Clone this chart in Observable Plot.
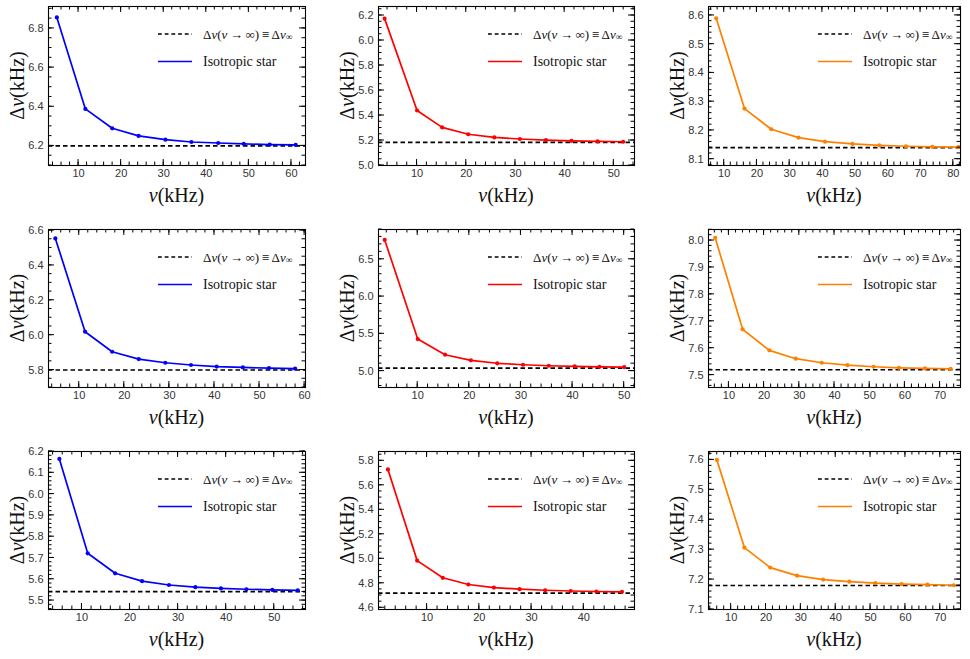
<!DOCTYPE html>
<html>
<head>
<meta charset="utf-8">
<script src="https://cdn.jsdelivr.net/npm/d3@7"></script>
<script src="https://cdn.jsdelivr.net/npm/@observablehq/plot@0.6"></script>
<style>
  body { margin: 0; background: #fff; }
  #fig { position: relative; width: 970px; height: 659px; overflow: hidden; background: #fff; }
  #fig svg { position: absolute; overflow: visible; }
</style>
</head>
<body>
<div id="fig"></div>
<script>
// ---- Frequency spacing Δν versus frequency ν, one panel per model ----
// Row 1
const nu_r1c1  = [4.9, 11.6, 17.9, 24.1, 30.4, 36.5, 42.8, 48.8, 54.9, 61.0];
const dnu_r1c1 = [6.856, 6.389, 6.290, 6.251, 6.232, 6.220, 6.215, 6.210, 6.207, 6.205];
const nu_r1c2  = [3.4, 10.0, 15.1, 20.4, 25.7, 30.9, 36.2, 41.4, 46.7, 51.9];
const dnu_r1c2 = [6.175, 5.440, 5.305, 5.250, 5.225, 5.212, 5.203, 5.197, 5.193, 5.190];
const nu_r1c3  = [7.55, 16.2, 24.4, 32.7, 40.8, 49.2, 57.4, 65.5, 73.6, 81.6];
const dnu_r1c3 = [8.590, 8.276, 8.204, 8.175, 8.161, 8.153, 8.148, 8.145, 8.143, 8.142];
// Row 2
const nu_r2c1  = [4.7, 11.3, 17.3, 23.2, 29.1, 34.8, 40.5, 46.3, 52.1, 57.9];
const dnu_r2c1 = [6.555, 6.020, 5.905, 5.863, 5.842, 5.829, 5.820, 5.815, 5.811, 5.808];
const nu_r2c2  = [3.6, 10.0, 15.3, 20.3, 25.4, 30.4, 35.4, 40.4, 45.2, 50.0];
const dnu_r2c2 = [6.760, 5.430, 5.220, 5.145, 5.105, 5.085, 5.072, 5.064, 5.058, 5.054];
const nu_r2c3  = [6.1, 13.9, 21.5, 29.0, 36.4, 43.7, 51.1, 58.3, 65.7, 73.0];
const dnu_r2c3 = [8.010, 7.670, 7.592, 7.561, 7.546, 7.537, 7.531, 7.527, 7.525, 7.523];
// Row 3
const nu_r3c1  = [5.3, 11.2, 16.9, 22.5, 28.1, 33.6, 38.9, 44.2, 49.6, 54.9];
const dnu_r3c1 = [6.165, 5.722, 5.628, 5.591, 5.573, 5.563, 5.557, 5.553, 5.550, 5.548];
const nu_r3c2  = [2.5, 8.1, 13.0, 17.9, 22.8, 27.7, 32.6, 37.5, 42.4, 47.3];
const dnu_r3c2 = [5.730, 4.985, 4.845, 4.790, 4.765, 4.752, 4.743, 4.737, 4.733, 4.730];
const nu_r3c3  = [5.9, 13.8, 21.2, 28.9, 36.4, 43.9, 51.4, 58.9, 66.3, 73.9];
const dnu_r3c3 = [7.600, 7.307, 7.240, 7.213, 7.200, 7.193, 7.188, 7.185, 7.183, 7.181];

// Asymptotic spacing Δν∞ per panel (row-major)
const dnuInf = [6.2, 5.185, 8.14, 5.8, 5.04, 7.52, 5.542, 4.72, 7.18];

// Series colours by column
const seriesColors = ["#0000ff", "#ff0000", "#ff8000"];

// Tick labels
const xTicks_to60 = [10, 20, 30, 40, 50, 60];
const xTicks_to50 = [10, 20, 30, 40, 50];
const xTicks_to40 = [10, 20, 30, 40];
const xTicks_to80 = [10, 20, 30, 40, 50, 60, 70, 80];
const xTicks_to70 = [10, 20, 30, 40, 50, 60, 70];
const yTicks_r1c1 = [6.2, 6.4, 6.6, 6.8];
const yTicks_r1c2 = [5.0, 5.2, 5.4, 5.6, 5.8, 6.0, 6.2];
const yTicks_r1c3 = [8.1, 8.2, 8.3, 8.4, 8.5, 8.6];
const yTicks_r2c1 = [5.8, 6.0, 6.2, 6.4, 6.6];
const yTicks_r2c2 = [5.0, 5.5, 6.0, 6.5];
const yTicks_r2c3 = [7.5, 7.6, 7.7, 7.8, 7.9, 8.0];
const yTicks_r3c1 = [5.5, 5.6, 5.7, 5.8, 5.9, 6.0, 6.1, 6.2];
const yTicks_r3c2 = [4.6, 4.8, 5.0, 5.2, 5.4, 5.6, 5.8];
const yTicks_r3c3 = [7.1, 7.2, 7.3, 7.4, 7.5, 7.6];

// Frame boxes on the page [left, right], [top, bottom] and scale settings
const colX = [[48, 305], [378, 634], [708, 960]];
const rowY = [[6, 165], [229, 387], [451, 609]];

const panels = [
  {r: 0, c: 0, nu: nu_r1c1, dnu: dnu_r1c1, xd: [2.94, 63.3], yd: [6.1, 6.912], xt: xTicks_to60, yt: yTicks_r1c1, xm: 2, ym: 0.05},
  {r: 0, c: 1, nu: nu_r1c2, dnu: dnu_r1c2, xd: [2.16, 54.2], yd: [5.0, 6.272], xt: xTicks_to50, yt: yTicks_r1c2, xm: 2, ym: 0.05},
  {r: 0, c: 2, nu: nu_r1c3, dnu: dnu_r1c3, xd: [5.2, 82.2], yd: [8.078, 8.631], xt: xTicks_to80, yt: yTicks_r1c3, xm: 2, ym: 0.02},
  {r: 1, c: 0, nu: nu_r2c1, dnu: dnu_r2c1, xd: [3.18, 60.2], yd: [5.70, 6.606], xt: xTicks_to60, yt: yTicks_r2c1, xm: 2, ym: 0.05},
  {r: 1, c: 1, nu: nu_r2c2, dnu: dnu_r2c2, xd: [2.4, 52.0], yd: [4.78, 6.90], xt: xTicks_to50, yt: yTicks_r2c2, xm: 2, ym: 0.1},
  {r: 1, c: 2, nu: nu_r2c3, dnu: dnu_r2c3, xd: [4.2, 75.8], yd: [7.454, 8.041], xt: xTicks_to70, yt: yTicks_r2c3, xm: 2, ym: 0.02},
  {r: 2, c: 0, nu: nu_r3c1, dnu: dnu_r3c1, xd: [3.04, 56.5], yd: [5.458, 6.2], xt: xTicks_to50, yt: yTicks_r3c1, xm: 2, ym: 0.02},
  {r: 2, c: 1, nu: nu_r3c2, dnu: dnu_r3c2, xd: [0.7, 49.7], yd: [4.586, 5.876], xt: xTicks_to40, yt: yTicks_r3c2, xm: 2, ym: 0.05},
  {r: 2, c: 2, nu: nu_r3c3, dnu: dnu_r3c3, xd: [3.5, 75.8], yd: [7.1, 7.628], xt: xTicks_to70, yt: yTicks_r3c3, xm: 2, ym: 0.02}
];

const ML = 48, MT = 6, MR = 14, MB = 50;
const MAJOR = 6, MINOR = 3.5;
const frameColor = "#000";
const fig = document.getElementById("fig");

function stepsIn([a, b], step) {
  const out = [];
  for (let k = Math.ceil(a / step - 1e-9); k * step <= b + 1e-9; k++) out.push(+(k * step).toFixed(6));
  return out;
}

panels.forEach((p, i) => {
  const [fl, fr] = colX[p.c];
  const [ft, fb] = rowY[p.r];
  const fw = fr - fl, fh = fb - ft;
  const color = seriesColors[p.c];
  const data = p.nu.map((x, k) => ({nu: x, dnu: p.dnu[k]}));
  const inRange = (d, [a, b]) => d >= a - 1e-9 && d <= b + 1e-9;
  const xMajor = p.xt.filter(d => inRange(d, p.xd));
  const yMajor = p.yt.filter(d => inRange(d, p.yd));

  const svg = Plot.plot({
    width: ML + fw + MR,
    height: MT + fh + MB,
    marginLeft: ML, marginTop: MT, marginRight: MR, marginBottom: MB,
    x: {domain: p.xd},
    y: {domain: p.yd},
    style: {fontFamily: "'Liberation Sans', Arial, sans-serif", fontSize: "11px", color: "#333", background: "transparent"},
    marks: [
      Plot.ruleY([dnuInf[i]], {stroke: "#000", strokeWidth: 1.6, strokeDasharray: "4.5,3"}),
      Plot.line(data, {x: "nu", y: "dnu", stroke: color, strokeWidth: 1.7}),
      Plot.dot(data, {x: "nu", y: "dnu", fill: color, r: 2.1}),
      Plot.frame({stroke: frameColor, strokeWidth: 1.1}),
      Plot.axisX(xMajor, {tickSize: 0, tickPadding: 4, label: null, tickFormat: d3.format("d")}),
      Plot.axisY(yMajor, {tickSize: 0, tickPadding: 5, label: null, tickFormat: d3.format(".1f")})
    ]
  });
  svg.style.left = (fl - ML) + "px";
  svg.style.top = (ft - MT) + "px";
  fig.appendChild(svg);

  // Inward major and minor ticks on all four frame sides, placed with the plot's scales
  const sx = svg.scale("x"), sy = svg.scale("y");
  const X = v => sx.apply(v), Y = v => sy.apply(v);
  const x0 = X(p.xd[0]), x1 = X(p.xd[1]), y0 = Y(p.yd[0]), y1 = Y(p.yd[1]);
  const tg = d3.select(svg).append("g").attr("stroke", frameColor).attr("stroke-width", 1);
  const tickSet = [[stepsIn(p.xd, p.xm), stepsIn(p.yd, p.ym), MINOR], [xMajor, yMajor, MAJOR]];
  for (const [xs, ys, len] of tickSet) {
    for (const v of xs) {
      const px = X(v);
      tg.append("line").attr("x1", px).attr("x2", px).attr("y1", y0).attr("y2", y0 - len);
      tg.append("line").attr("x1", px).attr("x2", px).attr("y1", y1).attr("y2", y1 + len);
    }
    for (const v of ys) {
      const py = Y(v);
      tg.append("line").attr("y1", py).attr("y2", py).attr("x1", x0).attr("x2", x0 + len);
      tg.append("line").attr("y1", py).attr("y2", py).attr("x1", x1).attr("x2", x1 - len);
    }
  }

  const g = d3.select(svg).append("g")
    .attr("font-family", "'Liberation Serif', 'DejaVu Serif', serif")
    .attr("fill", "#111");

  // Axis titles
  const xt = g.append("text")
    .attr("x", ML + fw / 2).attr("y", MT + fh + 37)
    .attr("text-anchor", "middle").attr("font-size", 20);
  xt.append("tspan").attr("font-style", "italic").text("ν");
  xt.append("tspan").text("(kHz)");

  const yt = g.append("text")
    .attr("transform", `translate(${ML - 31},${MT + fh / 2}) rotate(-90)`)
    .attr("text-anchor", "middle").attr("dominant-baseline", "central").attr("font-size", 20);
  yt.append("tspan").text("Δ");
  yt.append("tspan").attr("font-style", "italic").text("ν");
  yt.append("tspan").text("(kHz)");

  // Legend
  const lx = ML + 110, ly = MT + 28;
  const leg = g.append("g").attr("text-anchor", "start");
  leg.append("line").attr("x1", lx).attr("x2", lx + 34).attr("y1", ly).attr("y2", ly)
    .attr("stroke", "#000").attr("stroke-width", 1.6).attr("stroke-dasharray", "3.8,2.9");
  const t1 = leg.append("text").attr("x", lx + 45).attr("y", ly)
    .attr("dominant-baseline", "central").attr("font-size", 13);
  t1.append("tspan").text("Δ");
  t1.append("tspan").attr("font-style", "italic").text("ν");
  t1.append("tspan").text("(");
  t1.append("tspan").attr("font-style", "italic").text("ν");
  t1.append("tspan").text("\u2009→\u2009∞)\u2009≡\u2009Δ");
  t1.append("tspan").attr("font-style", "italic").text("ν");
  t1.append("tspan").attr("font-size", 9.5).attr("dy", 3).text("∞");

  leg.append("line").attr("x1", lx).attr("x2", lx + 34).attr("y1", ly + 27.5).attr("y2", ly + 27.5)
    .attr("stroke", color).attr("stroke-width", 1.7);
  leg.append("text").attr("x", lx + 45).attr("y", ly + 27.5).attr("dominant-baseline", "central")
    .attr("font-size", 14).text("Isotropic star");
});
</script>
</body>
</html>
